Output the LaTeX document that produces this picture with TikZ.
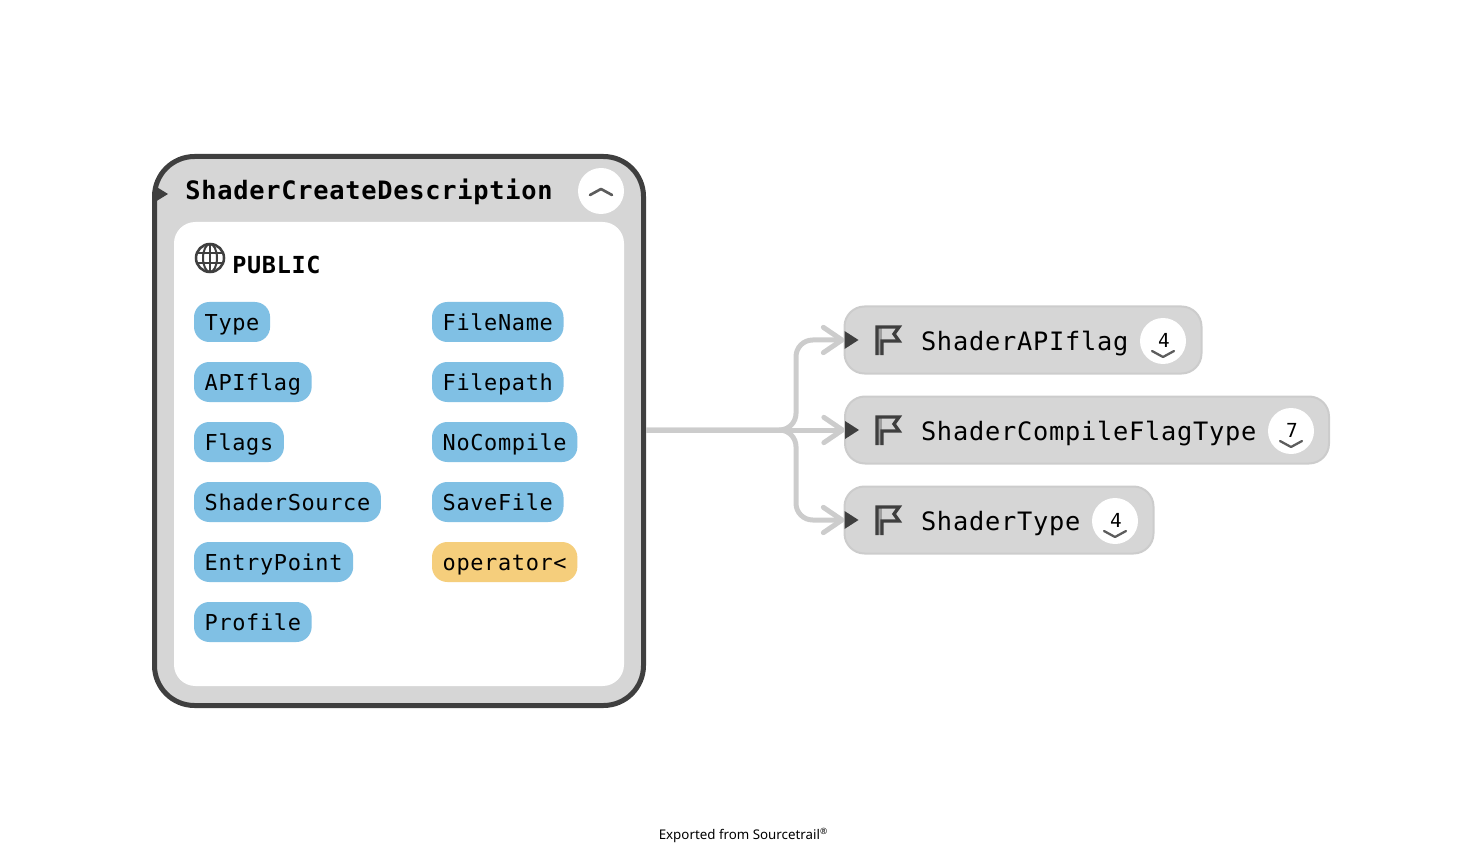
\documentclass[tikz,border=0pt]{standalone}
\usepackage{fontspec}
\usetikzlibrary{arrows.meta}
\setmainfont{Noto Sans}
\newfontfamily\monoface[LetterSpace=3]{DejaVu Sans Mono}
\definecolor{edgegrey}{HTML}{CCCCCC}
\definecolor{boxgrey}{HTML}{D6D6D6}
\definecolor{darkgrey}{HTML}{3F3F3F}
\definecolor{pillblue}{HTML}{80C0E4}
\definecolor{pillyellow}{HTML}{F5CE7C}
\tikzset{
  pill/.style={fill=pillblue,rounded corners=11.5pt,anchor=west,minimum height=30pt,inner xsep=8pt,inner ysep=0pt,outer sep=0pt,
    font=\monoface\fontsize{16.44}{16.44}\selectfont,text height=13.5pt,text depth=0.5pt,text=black},
  yellowpill/.style={pill,fill=pillyellow},
  childbox/.style={draw=edgegrey,fill=boxgrey,line width=1.5pt,rounded corners=15pt,minimum height=50.25pt,outer sep=0pt,inner sep=0pt},
  childlabel/.style={anchor=base west,inner sep=0pt,outer sep=0pt,font=\monoface\fontsize{19}{19}\selectfont,text=black},
  badge/.style={circle,fill=white,minimum size=34.5pt,inner sep=0pt,outer sep=0pt},
  count/.style={inner sep=0pt,outer sep=0pt,font=\monoface\fontsize{14.5}{14.5}\selectfont,text=black},
  chev/.style={draw=darkgrey!85,line width=1.7pt,line cap=round,line join=round},
  marker/.style={fill=darkgrey},
  connector/.style={draw=edgegrey,line width=3.75pt,rounded corners=12.5pt,shorten <=1.9pt,-{Straight Barb[length=14pt,width=19pt,round]}},
  flagicon/.style={draw=darkgrey,line width=2.5pt,line join=miter},
  flagpole/.style={fill=gray!75},
}
\newcommand{\flagat}[1]{%
  \begin{scope}[shift={(#1)}]
    \fill[flagpole] (-11,-12) rectangle (-6,15);
    \draw[flagicon] (-11,15) -- (-11,-13) -- (11,-13) -- (6,-6) -- (11,1) -- (-6,1) -- (-6,15);
  \end{scope}}
\begin{document}
\begin{tikzpicture}[x=0.75pt,y=-0.75pt]
\useasboundingbox (0,0) rectangle (1478,852);
% children
\node[childbox,minimum width=267.75pt] (a) at (1023,340) {};
\node[childbox,minimum width=363pt] (b) at (1087,430) {};
\node[childbox,minimum width=231.75pt] (c) at (999,520) {};
% main box
\node[draw=darkgrey,fill=boxgrey,line width=3.75pt,rounded corners=30pt,minimum width=366.75pt,minimum height=411.75pt,outer sep=0pt,inner sep=0pt] (main) at (399,431) {};
\node[fill=white,rounded corners=16pt,minimum width=337.5pt,minimum height=348pt,outer sep=0pt,inner sep=0pt] (inner) at (399,454) {};
\fill[marker] (155,186) -- (168,194) -- (155,202) -- cycle;
\node[anchor=base west,inner sep=0pt,font=\monoface\fontsize{19}{19}\selectfont\bfseries] (title) at (185,200) {ShaderCreateDescription};
\node[badge] (collapse) at (601,191) {};
\draw[chev,line width=2pt] (590,195) -- (601,189) -- (612,195);
% public
\begin{scope}[shift={(210,258)}]
  \draw[darkgrey,line width=1.9pt] (0,0) circle (14);
  \draw[darkgrey,line width=1.5pt] (0,0) ellipse (7 and 14);
  \draw[darkgrey,line width=1.5pt] (-13,-5) -- (13,-5) (-13,5) -- (13,5) (0,-14) -- (0,14);
\end{scope}
\node[anchor=base west,inner sep=0pt,font=\monoface\fontsize{17.6}{17.6}\selectfont\bfseries] (public) at (232,274) {PUBLIC};
% members
\node[pill] (m1) at (194,322) {Type};
\node[pill] (m2) at (194,382) {APIflag};
\node[pill] (m3) at (194,442) {Flags};
\node[pill] (m4) at (194,502) {ShaderSource};
\node[pill] (m5) at (194,562) {EntryPoint};
\node[pill] (m6) at (194,622) {Profile};
\node[pill] (m7) at (432,322) {FileName};
\node[pill] (m8) at (432,382) {Filepath};
\node[pill] (m9) at (432,442) {NoCompile};
\node[pill] (m10) at (432,502) {SaveFile};
\node[yellowpill] (m11) at (432,562) {operator<};
% connectors
\coordinate (branch) at (796,430);
\draw[connector] (main.east |- b.west) -- (b.west);
\draw[connector] (main.east |- b.west) -- (branch) -- (branch |- a.west) -- (a.west);
\draw[connector] (main.east |- b.west) -- (branch) -- (branch |- c.west) -- (c.west);
\foreach \n in {a,b,c}{\fill[marker] (\n.west) ++(0,-9) -- ++(14,9) -- ++(-14,9) -- cycle;}
% icons and labels
\flagat{888,340}\flagat{888,430}\flagat{888,520}
\node[childlabel] (la) at (921,350) {ShaderAPIflag};
\node[childlabel] (lb) at (921,440) {ShaderCompileFlagType};
\node[childlabel] (lc) at (921,530) {ShaderType};
\foreach \n/\x/\y/\d in {ba/1163/341/4,bb/1291/431/7,bc/1115/521/4}{
  \node[badge] (\n) at (\x,\y) {};
  \node[count] (\n d) at (\x+1,\y-1) {\d};
  \draw[chev] (\x-11,\y+10) -- (\x,\y+16) -- (\x+11,\y+10);
}
% footer
\node[anchor=base,inner sep=0pt,font=\fontsize{10}{10}\selectfont,text=black] (foot) at (743,839) {Exported from Sourcetrail\raisebox{3.5pt}{\fontsize{6.5}{6.5}\selectfont ®}};
\end{tikzpicture}
\end{document}
